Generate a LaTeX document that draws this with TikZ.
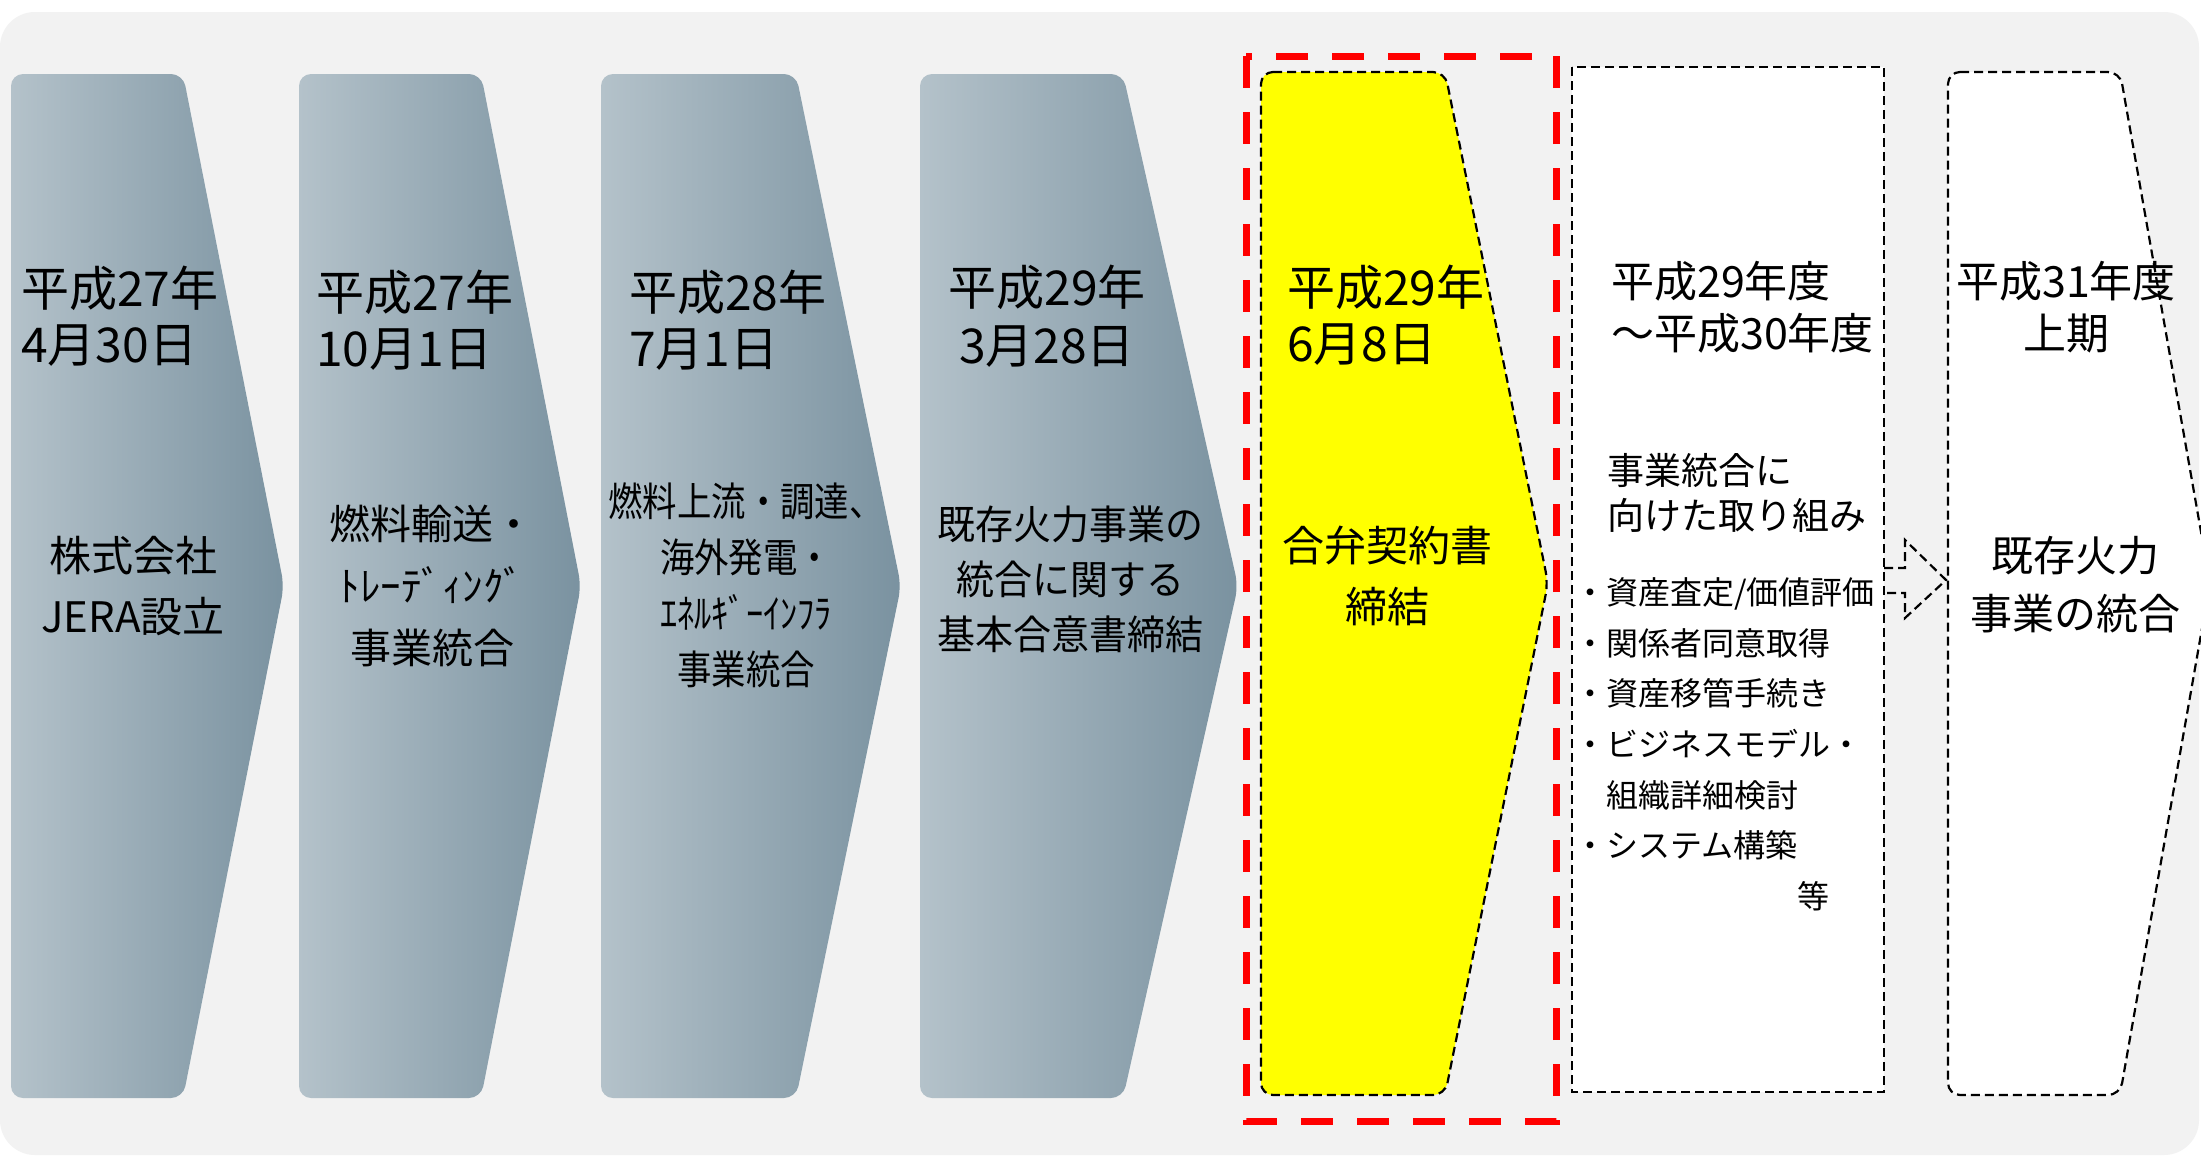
\documentclass[tikz,border=0pt]{standalone}
\usepackage{fontspec}
\setmainfont{Noto Sans CJK JP}
\newfontfamily\jpnarrow[FakeStretch=0.86]{Noto Sans CJK JP}
\newfontfamily\jpnarrowb[FakeStretch=0.95]{Noto Sans CJK JP}
\definecolor{bggray}{RGB}{242,242,242}
\definecolor{gradL}{RGB}{180,194,202}
\definecolor{gradR}{RGB}{122,146,160}
\definecolor{hlyellow}{RGB}{255,255,0}
\definecolor{hlred}{RGB}{255,0,0}
\tikzset{
  chevfill/.style={left color=gradL, right color=gradR, rounded corners=12},
  blackdash/.style={draw=black, line width=2.2pt, dash pattern=on 9pt off 5pt},
  reddash/.style={draw=hlred, line width=7pt, dash pattern=on 32pt off 24pt},
  dateL/.style={inner sep=0pt, align=left, anchor=west, font=\fontsize{48}{56}\selectfont},
  dateC/.style={inner sep=0pt, align=center, font=\fontsize{48}{58}\selectfont},
  dateS/.style={inner sep=0pt, align=left, anchor=west, font=\fontsize{43}{52}\selectfont},
  dateSC/.style={inner sep=0pt, align=center, font=\fontsize{43}{52}\selectfont},
  bodyA/.style={inner sep=0pt, align=center, font=\fontsize{42}{61}\selectfont},
  bodyB/.style={inner sep=0pt, align=center, font=\fontsize{41}{62}\selectfont},
  bodyC/.style={inner sep=0pt, align=center, font=\jpnarrow\fontsize{40}{56}\selectfont},
  bodyD/.style={inner sep=0pt, align=center, font=\jpnarrowb\fontsize{40}{55}\selectfont},
  bodyE/.style={inner sep=0pt, align=left, anchor=west, font=\fontsize{37}{45}\selectfont},
  bullets/.style={inner sep=0pt, align=left, anchor=west, font=\fontsize{32}{50.6}\selectfont},
}
\begin{document}
\begin{tikzpicture}[x=1pt,y=-1pt]
\useasboundingbox (0,0) rectangle (2201,1160);
\fill[white] (0,0) rectangle (2201,1160);
\fill[bggray, rounded corners=35] (0,12) rectangle (2199,1155);

% grey chevrons
\shade[chevfill] (11,74) -- (183,74) -- (284,586) -- (183,1098) -- (11,1098) -- cycle;
\shade[chevfill] (299,74) -- (481,74) -- (581,586) -- (481,1098) -- (299,1098) -- cycle;
\shade[chevfill] (601,74) -- (796,74) -- (901,586) -- (796,1098) -- (601,1098) -- cycle;
\shade[chevfill] (920,74) -- (1123,74) -- (1238,586) -- (1123,1098) -- (920,1098) -- cycle;

% highlighted step
\draw[reddash] (1246,56) rectangle (1556,1121);
\filldraw[fill=hlyellow, blackdash, rounded corners=12] (1261,72) -- (1445,72) -- (1548,583) -- (1445,1095) -- (1261,1095) -- cycle;

% white box and final chevron
\filldraw[fill=white, blackdash] (1572,67) rectangle (1884,1092);
\filldraw[fill=white, blackdash, rounded corners=12] (1948,72) -- (2120,72) -- (2210,583) -- (2120,1095) -- (1948,1095) -- cycle;

% dashed block arrow
\draw[blackdash] (1884,568) -- (1905,568) -- (1905,540) -- (1946,580) -- (1905,618) -- (1905,593) -- (1884,593);

% texts
\node[dateL] (d1) at (21,316) {平成27年\\4月30日};
\node[bodyA] (b1) at (133,586) {株式会社\\JERA設立};

\node[dateL] (d2) at (316,320) {平成27年\\10月1日};
\node[bodyB] (b2) at (432,586) {燃料輸送・\\ﾄﾚｰﾃﾞｨﾝｸﾞ\\事業統合};

\node[dateL] (d3) at (629,320) {平成28年\\7月1日};
\node[bodyC] (b3) at (746,585) {燃料上流・調達、\\海外発電・\\ｴﾈﾙｷﾞｰｲﾝﾌﾗ\\事業統合};

\node[dateC] (d4) at (1047,316) {平成29年\\3月28日};
\node[bodyD] (b4) at (1070,579) {既存火力事業の\\統合に関する\\基本合意書締結};

\node[dateL] (d5) at (1287,315) {平成29年\\6月8日};
\node[bodyA] (b5) at (1387,576) {合弁契約書\\締結};

\node[dateS] (d6) at (1611,307) {平成29年度\\～平成30年度};
\node[bodyE] (b6) at (1607,493) {事業統合に\\向けた取り組み};
\node[bullets] (l6) at (1574,719) {・資産査定/価値評価\\・関係者同意取得\\・資産移管手続き\\・ビジネスモデル・\\　組織詳細検討\\・システム構築};
\node[inner sep=0pt, font=\fontsize{32}{40}\selectfont] (etc) at (1813,896) {等};

\node[dateSC] (d7) at (2066,307) {平成31年度\\上期};
\node[inner sep=0pt, align=center, font=\fontsize{42}{58}\selectfont] (b7) at (2075,585) {既存火力\\事業の統合};
\end{tikzpicture}
\end{document}
